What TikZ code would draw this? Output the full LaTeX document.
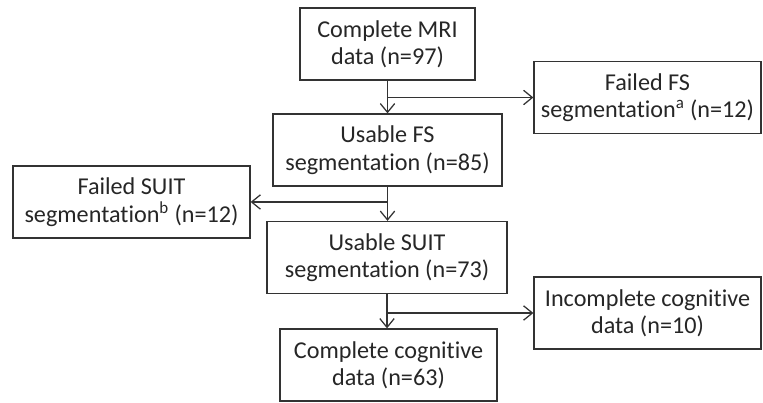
\documentclass[tikz,border=0pt]{standalone}
\usepackage{fontspec}
\setmainfont{Carlito}[RawFeature=-liga]
\usetikzlibrary{arrows.meta}

\begin{document}
\begin{tikzpicture}[
  box/.style={draw=black!80, line width=0.9pt, align=center, inner sep=0pt,
    minimum height=1.8cm, text=black!85, font=\fontsize{17.2}{19.5}\selectfont},
  flow/.style={draw=black!80, line width=0.9pt,
    -{Straight Barb[length=2.2mm,width=3.6mm,line width=0.9pt]}}
]
\useasboundingbox (0,0) rectangle (19.075,10.075);

% Draw the main boxes
\node[box, minimum width=4.375cm] (mri) at (9.6875,8.975) {Complete MRI\\data (n=97)};
\node[box, minimum width=5.725cm] (usefs) at (9.6875,6.325) {Usable FS\\segmentation (n=85)};
\node[box, minimum width=6cm] (usesuit) at (9.675,3.6375) {Usable SUIT\\segmentation (n=73)};
\node[box, minimum width=5.425cm] (cog) at (9.7125,0.95) {Complete cognitive\\data (n=63)};

% Draw the exclusion boxes
\node[box, minimum width=5.675cm] (failfs) at (16.1875,7.6375) {Failed FS\\segmentation\textsuperscript{a} (n=12)};
\node[box, minimum width=5.925cm] (failsuit) at (3.2875,5.025) {Failed SUIT\\segmentation\textsuperscript{b} (n=12)};
\node[box, minimum width=5.675cm] (incog) at (16.1875,2.25) {Incomplete cognitive\\data (n=10)};

% Draw the arrows down
\draw[flow] (mri.south) -- (mri.south |- usefs.north);
\draw[flow] (usefs.south) -- (usefs.south |- usesuit.north);
\draw[flow] (usesuit.south) -- (usesuit.south |- cog.north);

% Draw the arrows to the sides
\draw[flow] (mri.south |- failfs.west) -- (failfs.west);
\draw[flow] (usefs.south |- failsuit.east) -- (failsuit.east);
\draw[flow] (usesuit.south |- incog.west) -- (incog.west);
\end{tikzpicture}
\end{document}
